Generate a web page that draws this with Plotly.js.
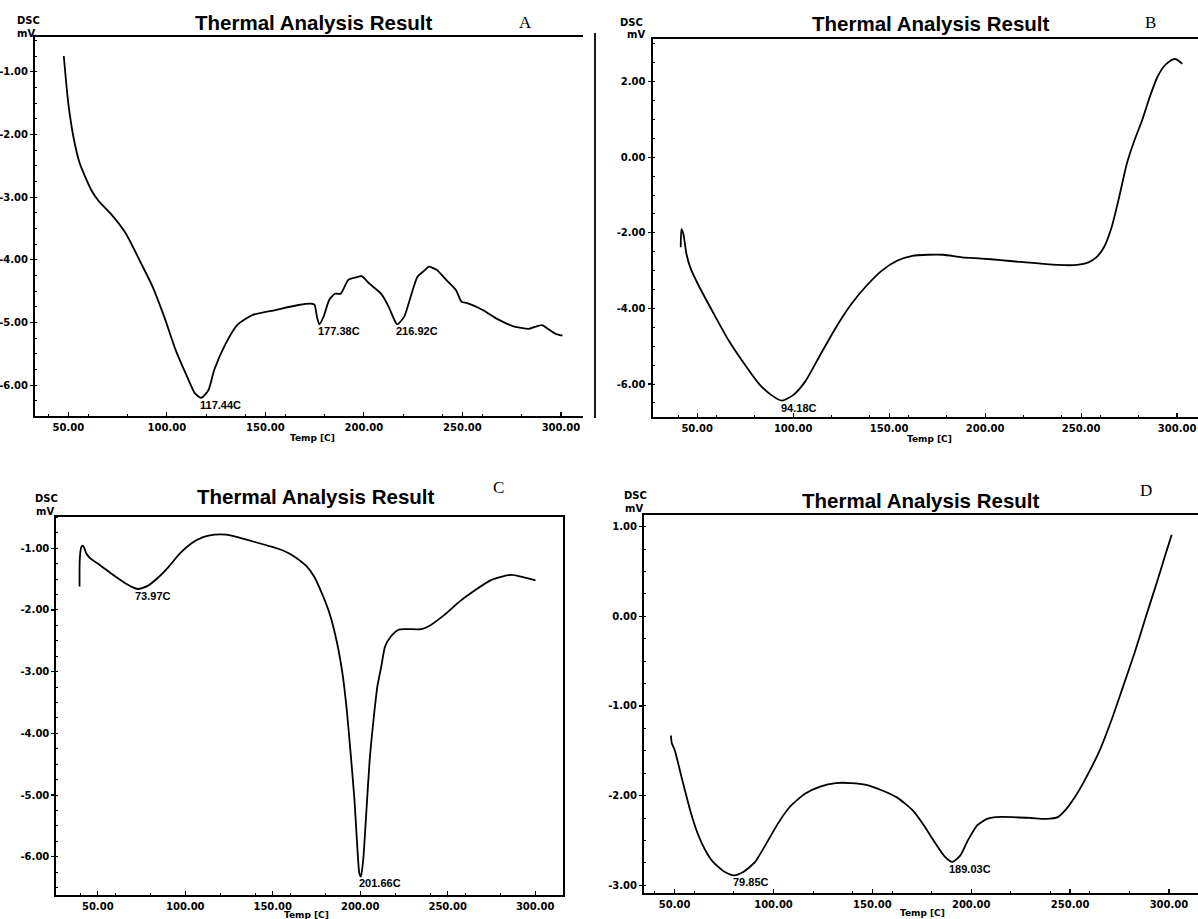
<!DOCTYPE html>
<html>
<head>
<meta charset="utf-8">
<script src="https://cdn.plot.ly/plotly-3.0.1.min.js"></script>
<style>
  html, body { margin: 0; padding: 0; background: #fff; }
  #chart { width: 1198px; height: 919px; }
</style>
</head>
<body>
<div id="chart"></div>
<script>
// ---------- data ----------
const tempA = [47.7, 50, 52.9, 55.8, 61.7, 65.6, 71.4, 79.2, 87, 92.8, 98.7, 104.5, 110.4, 114.3, 117.4, 121.1, 124, 129.8, 135.7, 143.5, 155.1, 166.8, 173.6, 175, 176.2, 177.4, 179.5, 182.4, 185.3, 188.2, 192.1, 196, 198.9, 202.8, 208.7, 212.6, 215.5, 216.9, 220.4, 224.2, 227.2, 231.1, 233, 236.9, 241.8, 246.7, 249.6, 252.5, 260.3, 268.1, 275.9, 283.6, 286.6, 290.5, 293.4, 297.3, 300.8];
const dscA = [-0.75, -1.505, -2.09, -2.46, -2.89, -3.07, -3.26, -3.58, -4.06, -4.43, -4.91, -5.44, -5.87, -6.13, -6.20, -6.08, -5.76, -5.34, -5.04, -4.88, -4.80, -4.72, -4.70, -4.72, -4.91, -5.03, -4.91, -4.64, -4.54, -4.54, -4.32, -4.28, -4.26, -4.38, -4.54, -4.75, -4.96, -5.03, -4.91, -4.54, -4.27, -4.16, -4.11, -4.16, -4.32, -4.48, -4.67, -4.69, -4.80, -4.95, -5.06, -5.10, -5.07, -5.04, -5.10, -5.18, -5.21];

const tempB = [41.4, 41.8, 42.8, 44.4, 46.4, 50.4, 58.4, 66.4, 74.3, 82.3, 88.3, 94.2, 100.3, 106.3, 114.2, 122.2, 130.2, 138.2, 146.2, 154.1, 162.1, 170.1, 178.1, 188, 198, 208, 218, 228, 237.9, 247.9, 253.9, 257.9, 261.9, 265.9, 269.8, 273.8, 277.8, 281.8, 285.8, 289.8, 293.8, 297.8, 299.7, 302.7];
const dscB = [-2.38, -1.90, -2.03, -2.56, -2.92, -3.36, -4.12, -4.85, -5.45, -6.00, -6.28, -6.44, -6.28, -5.93, -5.22, -4.51, -3.89, -3.40, -3.00, -2.74, -2.61, -2.58, -2.58, -2.65, -2.68, -2.72, -2.77, -2.81, -2.85, -2.85, -2.78, -2.65, -2.38, -1.85, -1.06, -0.17, 0.45, 0.98, 1.60, 2.13, 2.44, 2.59, 2.59, 2.47];

const tempC = [39.6, 39.7, 40.6, 41.7, 43.4, 45.6, 51.1, 57.7, 64.2, 69.7, 73.0, 78.5, 83.9, 90.5, 97.1, 103.6, 110.2, 116.8, 123.3, 129.9, 138.7, 147.4, 156.2, 162.7, 169.3, 173.7, 178.1, 182.4, 186.8, 190.1, 192.3, 194.5, 196.7, 198.2, 199.5, 200.4, 201.7, 203.2, 205.4, 207.6, 209.8, 212.0, 214.2, 217.5, 221.9, 226.2, 235.0, 239.4, 248.1, 256.9, 265.6, 274.4, 281.0, 286.5, 291.9, 300.2];
const dscC = [-1.62, -1.19, -0.98, -0.96, -1.08, -1.16, -1.27, -1.41, -1.54, -1.63, -1.66, -1.61, -1.49, -1.30, -1.08, -0.92, -0.82, -0.78, -0.78, -0.82, -0.89, -0.96, -1.04, -1.14, -1.29, -1.46, -1.73, -2.05, -2.54, -3.08, -3.62, -4.32, -5.08, -5.78, -6.27, -6.32, -6.05, -5.41, -4.43, -3.78, -3.24, -2.92, -2.59, -2.43, -2.32, -2.31, -2.31, -2.26, -2.08, -1.86, -1.68, -1.52, -1.46, -1.43, -1.46, -1.52];

const tempD = [48.1, 48.6, 50, 53.9, 57.8, 61.6, 65.5, 69.4, 75.2, 80, 84.9, 90.7, 96.5, 102.3, 108.1, 115.9, 123.6, 131.4, 139.1, 146.9, 154.7, 162.4, 170.2, 176, 181.8, 186.6, 190.5, 194.4, 198.3, 203.1, 208, 212.8, 220.5, 230.2, 238, 243.8, 247.7, 253.5, 259.3, 265.1, 270.9, 276.7, 282.6, 288.4, 294.2, 298.1, 301.4];
const dscD = [-1.33, -1.42, -1.49, -1.83, -2.16, -2.42, -2.61, -2.74, -2.85, -2.89, -2.85, -2.74, -2.53, -2.31, -2.13, -1.98, -1.90, -1.86, -1.86, -1.88, -1.94, -2.02, -2.16, -2.33, -2.53, -2.68, -2.74, -2.67, -2.50, -2.33, -2.26, -2.24, -2.24, -2.25, -2.26, -2.24, -2.16, -1.98, -1.75, -1.49, -1.16, -0.79, -0.41, 0.0, 0.40, 0.68, 0.91];

// peak labels: temperature label text, x position, y position
const peakTextA = ["117.44C", "177.38C", "216.92C"];
const peakXA = [117.44, 177.38, 216.92];
const peakYA = [-6.20, -5.03, -5.03];
const peakTextB = ["94.18C"];
const peakXB = [94.18];
const peakYB = [-6.44];
const peakTextC = ["73.97C", "201.66C"];
const peakXC = [72.0, 199.6];
const peakYC = [-1.66, -6.32];
const peakTextD = ["79.85C", "189.03C"];
const peakXD = [79.85, 189.03];
const peakYD = [-2.89, -2.74];

// tick labels
const xTickVals = [50, 100, 150, 200, 250, 300];
const xTickText = ["50.00", "100.00", "150.00", "200.00", "250.00", "300.00"];
const yTickValsA = [-1, -2, -3, -4, -5, -6];
const yTickTextA = ["-1.00", "-2.00", "-3.00", "-4.00", "-5.00", "-6.00"];
const yTickValsB = [2, 0, -2, -4, -6];
const yTickTextB = ["2.00", "0.00", "-2.00", "-4.00", "-6.00"];
const yTickValsC = [-1, -2, -3, -4, -5, -6];
const yTickTextC = ["-1.00", "-2.00", "-3.00", "-4.00", "-5.00", "-6.00"];
const yTickValsD = [1, 0, -1, -2, -3];
const yTickTextD = ["1.00", "0.00", "-1.00", "-2.00", "-3.00"];

const panelTitle = "Thermal Analysis Result";
const panelLetters = ["A", "B", "C", "D"];
const xAxisLabel = "Temp [C]";
const yAxisLabel1 = "DSC";
const yAxisLabel2 = "mV";

// ---------- layout helpers ----------
const W = 1198, H = 919;
const px = v => v / W;
const py = v => 1 - v / H;

const tickFont = { family: "DejaVu Sans, Verdana, sans-serif", size: 10, color: "#000", weight: "bold" };

function xAxis(domain, range, anchor) {
  return {
    domain: domain, range: range, anchor: anchor,
    tickmode: "array", tickvals: xTickVals, ticktext: xTickText,
    ticks: "inside", ticklen: 4, tickwidth: 1.2, tickcolor: "#000",
    minor: { ticks: "inside", ticklen: 2, tickwidth: 1, tickcolor: "#000", tick0: 0, dtick: 20 },
    showgrid: false, zeroline: false, showline: true, linecolor: "#000", linewidth: 2,
    mirror: true, tickfont: tickFont, ticklabelstandoff: 1, fixedrange: true
  };
}
function yAxis(domain, range, anchor, vals, text, mirror) {
  return {
    domain: domain, range: range, anchor: anchor,
    tickmode: "array", tickvals: vals, ticktext: text,
    ticks: "outside", ticklen: 3, tickwidth: 1.2, tickcolor: "#000",
    minor: { ticks: "inside", ticklen: 2, tickwidth: 1, tickcolor: "#000", dtick: (vals[0] - vals[1]) / 4 },
    showgrid: false, zeroline: false, showline: true, linecolor: "#000", linewidth: 2,
    mirror: mirror, tickfont: tickFont, ticklabelstandoff: 0, fixedrange: true
  };
}

const lineStyle = { color: "#000", width: 1.8, shape: "spline", smoothing: 0.6 };

const traces = [
  { x: tempA, y: dscA, xaxis: "x", yaxis: "y", type: "scatter", mode: "lines", line: lineStyle, hoverinfo: "skip" },
  { x: tempB, y: dscB, xaxis: "x2", yaxis: "y2", type: "scatter", mode: "lines", line: lineStyle, hoverinfo: "skip" },
  { x: tempC, y: dscC, xaxis: "x3", yaxis: "y3", type: "scatter", mode: "lines", line: lineStyle, hoverinfo: "skip" },
  { x: tempD, y: dscD, xaxis: "x4", yaxis: "y4", type: "scatter", mode: "lines", line: lineStyle, hoverinfo: "skip" }
];

const annotations = [];
const titleFont = { family: "Liberation Sans, Arial, sans-serif", size: 20.5, color: "#000", weight: "bold" };
const letterFont = { family: "Liberation Serif, Times New Roman, serif", size: 17, color: "#000" };
const smallFont = { family: "DejaVu Sans, Verdana, sans-serif", size: 10, color: "#000", weight: "bold" };
const axisLabelFont = { family: "DejaVu Sans, Verdana, sans-serif", size: 9, color: "#000", weight: "bold" };
const peakFont = { family: "Liberation Sans, Arial, sans-serif", size: 11, color: "#000", weight: "bold" };

function paperText(text, x, y, font) {
  annotations.push({ xref: "paper", yref: "paper", x: px(x), y: py(y), text: text, showarrow: false,
    xanchor: "center", yanchor: "middle", font: font });
}
// titles
paperText(panelTitle, 314, 22, titleFont);
paperText(panelTitle, 931, 24, titleFont);
paperText(panelTitle, 316, 497, titleFont);
paperText(panelTitle, 921, 500, titleFont);
// letters
paperText(panelLetters[0], 525, 22, letterFont);
paperText(panelLetters[1], 1150, 23, letterFont);
paperText(panelLetters[2], 498, 488, letterFont);
paperText(panelLetters[3], 1146, 490, letterFont);
// DSC / mV
[[28, 20, 26, 33], [631, 22, 636, 34], [46, 498, 45, 511], [635, 495, 634, 508]].forEach(p => {
  paperText(yAxisLabel1, p[0], p[1], smallFont);
  paperText(yAxisLabel2, p[2], p[3], smallFont);
});
// x-axis labels
paperText(xAxisLabel, 312, 438, axisLabelFont);
paperText(xAxisLabel, 929, 439, axisLabelFont);
paperText(xAxisLabel, 307, 915, axisLabelFont);
paperText(xAxisLabel, 922, 913, axisLabelFont);

function peaks(texts, xs, ys, xr, yr) {
  texts.forEach((t, i) => {
    annotations.push({ xref: xr, yref: yr, x: xs[i], y: ys[i], text: t, showarrow: false,
      xanchor: "left", yanchor: "top", xshift: -3, yshift: 1, font: peakFont });
  });
}
peaks(peakTextA, peakXA, peakYA, "x", "y");
peaks(peakTextB, peakXB, peakYB, "x2", "y2");
peaks(peakTextC, peakXC, peakYC, "x3", "y3");
peaks(peakTextD, peakXD, peakYD, "x4", "y4");

const layout = {
  width: W, height: H,
  margin: { l: 0, r: 0, t: 0, b: 0 },
  paper_bgcolor: "#fff", plot_bgcolor: "#fff",
  showlegend: false,
  xaxis: xAxis([px(35), px(583)], [33.1, 311.2], "y"),
  yaxis: yAxis([py(416), py(37)], [-6.49, -0.447], "x", yTickValsA, yTickTextA, false),
  xaxis2: xAxis([px(652.5), 1], [26.7, 310.9], "y2"),
  yaxis2: yAxis([py(417.3), py(39.3)], [-6.88, 3.12], "x2", yTickValsB, yTickTextB, false),
  xaxis3: xAxis([px(56.3), px(562.5)], [26.3, 315.6], "y3"),
  yaxis3: yAxis([py(895), py(516.7)], [-6.62, -0.488], "x3", yTickValsC, yTickTextC, true),
  xaxis4: xAxis([px(644), 1], [34.5, 314.7], "y4"),
  yaxis4: yAxis([py(893.3), py(515)], [-3.09, 1.13], "x4", yTickValsD, yTickTextD, false),
  annotations: annotations,
  shapes: [
    { type: "line", xref: "paper", yref: "paper", x0: px(595), x1: px(595), y0: py(33), y1: py(418),
      line: { color: "#000", width: 1.8 } }
  ]
};

Plotly.newPlot("chart", traces, layout, { staticPlot: true, displayModeBar: false });
</script>
</body>
</html>
